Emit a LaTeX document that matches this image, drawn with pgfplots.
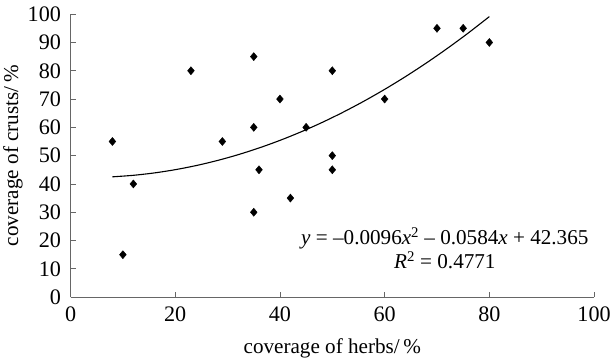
\documentclass[border=0pt]{standalone}
\usepackage{pgfplots}
\pgfplotsset{compat=1.18}
\usepackage{fontspec}
\setmainfont{Liberation Serif}
\begin{document}
\begin{tikzpicture}
\begin{axis}[
  scale only axis,
  width=518bp, height=280bp,
  xmin=0, xmax=100, ymin=0, ymax=100,
  axis x line*=bottom, axis y line*=left,
  axis line style={gray!80!black, line width=0.8pt},
  tick style={gray!80!black, line width=0.8pt},
  tick align=inside,
  major tick length=5bp,
  xtick={0,20,...,100}, ytick={0,10,...,100},
  /pgf/number format/assume math mode=true,
  ticklabel style={font=\fontsize{22}{24}\selectfont},
  xticklabel style={yshift=-6bp},
  yticklabel style={xshift=-6bp},
  xlabel={coverage of herbs/\,\%},
  ylabel={coverage of crusts/\,\%},
  label style={font=\fontsize{21}{24}\selectfont},
  xlabel style={yshift=-10bp},
  ylabel style={yshift=-2bp},
  clip=false,
]
\addplot[only marks, mark=diamond*, mark size=4pt, black, mark options={xscale=1.12}] coordinates {
(8,55) (10,15) (12,40) (23,80) (29,55) (35,85) (35,60) (35,30) (36,45)
(40,70) (42,35) (45,60) (50,80) (50,50) (50,45) (60,70) (70,95) (75,95) (80,90)
};
\addplot[black, line width=1.1pt, smooth] coordinates {
(8,42.512) (12,43.047) (16,43.888) (20,45.037) (24,46.493) (28,48.256)
(32,50.327) (36,52.704) (40,55.389) (44,58.381) (48,61.680) (52,65.287)
(56,69.200) (60,73.421) (64,77.949) (68,82.784) (72,87.927) (76,93.376) (80,99.133)
};
\node[align=center, font=\fontsize{21}{24}\selectfont, inner sep=0pt] at (axis cs:71.5,17.3)
  {\textit{y} = –0.0096\textit{x}\textsuperscript{2} – 0.0584\textit{x} + 42.365\\\textit{R}\textsuperscript{2} = 0.4771};
\path (rel axis cs:0,1) ++(0,14bp) coordinate (topmargin);
\end{axis}
\end{tikzpicture}
\end{document}
